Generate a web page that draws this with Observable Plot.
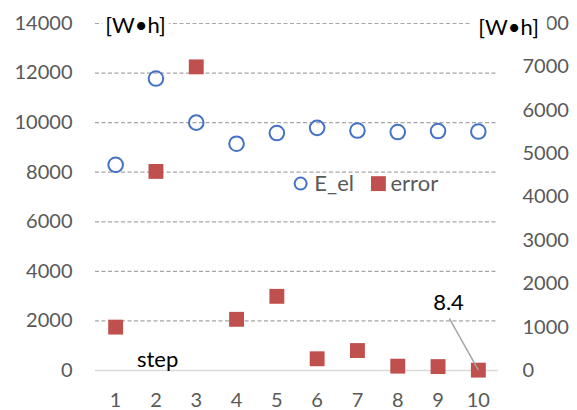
<!DOCTYPE html>
<html>
<head>
<meta charset="utf-8">
<script src="https://cdn.jsdelivr.net/npm/d3@7"></script>
<script src="https://cdn.jsdelivr.net/npm/@observablehq/plot@0.6"></script>
<style>
  html, body { margin: 0; padding: 0; background: #fff; }
  #chart { width: 577px; height: 410px; }
</style>
</head>
<body>
<div id="chart"></div>
<script>
// ---- data ----
const steps = [1, 2, 3, 4, 5, 6, 7, 8, 9, 10];
const eEl = [8300, 11780, 10000, 9150, 9580, 9790, 9680, 9620, 9660, 9640];
const errorVals = [1000, 4590, 7000, 1180, 1710, 270, 460, 100, 90, 8.4];
const leftTicks = [0, 2000, 4000, 6000, 8000, 10000, 12000, 14000];
const rightTicks = [0, 1000, 2000, 3000, 4000, 5000, 6000, 7000, 8000];
const leftMax = 14000;
const rightMax = 8000;
const unitLabel = "[W•h]";
const xLabel = "step";
const seriesNames = ["E_el", "error"];
const calloutText = "8.4";

// annotation anchors (in data units)
const unitLeftPos = {x: 0.74, y: 13920};
const unitRightPos = {x: 10.0, y: 13840};
const stepPos = {x: 1.53, y: 440};
const calloutPos = {x: 9.26, y: 2740};
const calloutLineStart = {x: 9.28, y: 2100};
const legendPos = [{x: 5.59, y: 7540}, {x: 7.52, y: 7540}];
const legendTextPos = [{x: 5.93, y: 7540}, {x: 7.82, y: 7540}];

const k = leftMax / rightMax;
const blue = "#4472c4";
const red = "#c0504d";

const pts = steps.map((s, i) => ({step: s, e: eEl[i], err: errorVals[i] * k}));

const chart = Plot.plot({
  width: 577,
  height: 410,
  marginLeft: 95,
  marginRight: 79,
  marginTop: 23,
  marginBottom: 40,
  style: {fontFamily: "Lato, 'Open Sans', sans-serif", fontSize: "20px", color: "#595959", background: "#fff"},
  x: {type: "linear", domain: [0.5, 10.5], label: null},
  y: {type: "linear", domain: [0, leftMax], label: null},
  marks: [
    Plot.ruleY(leftTicks.filter(v => v > 0), {stroke: "#a6a6a6", strokeWidth: 1.2, strokeDasharray: "4,2.5"}),
    Plot.ruleY([0], {stroke: "#d9d9d9", strokeWidth: 1.5}),
    Plot.axisX(steps, {anchor: "bottom", tickSize: 0, tickPadding: 22, label: null, fontSize: 20, tickFormat: d => String(d)}),
    Plot.axisY(leftTicks, {anchor: "left", tickSize: 0, tickPadding: 23, label: null, fontSize: 20, tickFormat: d => String(d)}),
    Plot.axisY(rightTicks.map(v => v * k), {anchor: "right", tickSize: 0, tickPadding: 24, label: null, fontSize: 20, textAnchor: "start",
      tickFormat: d => String(Math.round(d / k))}),
    Plot.text([unitLabel], {x: unitLeftPos.x, y: unitLeftPos.y, text: d => d, textAnchor: "start", fill: "#000", fontSize: 22,
      stroke: "#fff", strokeWidth: 10}),
    Plot.text([unitLabel], {x: unitRightPos.x, y: unitRightPos.y, text: d => d, textAnchor: "start", fill: "#000", fontSize: 22,
      stroke: "#fff", strokeWidth: 20, clip: false}),
    Plot.dot(pts, {x: "step", y: "e", r: 7.3, stroke: blue, strokeWidth: 2, fill: "none"}),
    Plot.dot(pts, {x: "step", y: "err", symbol: "square", r: 8.4, fill: red, stroke: "none"}),
    Plot.link([0], {x1: calloutLineStart.x, y1: calloutLineStart.y, x2: steps[9], y2: errorVals[9] * k, stroke: "#a6a6a6", strokeWidth: 1.5}),
    Plot.text([calloutText], {x: calloutPos.x, y: calloutPos.y, text: d => d, fill: "#000", fontSize: 22}),
    Plot.text([xLabel], {x: stepPos.x, y: stepPos.y, text: d => d, textAnchor: "start", fill: "#000", fontSize: 22}),
    Plot.dot([0], {x: legendPos[0].x, y: legendPos[0].y, r: 6, stroke: blue, strokeWidth: 2, fill: "none"}),
    Plot.dot([0], {x: legendPos[1].x, y: legendPos[1].y, symbol: "square", r: 8.4, fill: red}),
    Plot.text(seriesNames, {x: (d, i) => legendTextPos[i].x, y: (d, i) => legendTextPos[i].y, text: d => d, textAnchor: "start", fill: "#595959", fontSize: 22})
  ]
});
document.getElementById("chart").appendChild(chart);
</script>
</body>
</html>
